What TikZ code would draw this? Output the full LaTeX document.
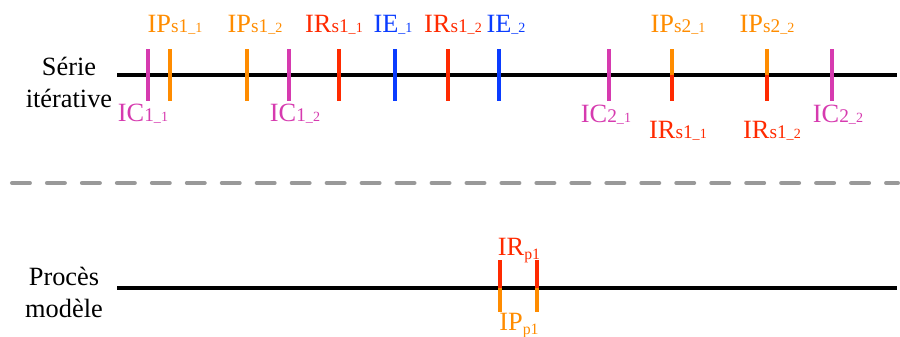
\documentclass[tikz,border=0pt]{standalone}
\usepackage{fontspec}
\setmainfont{Liberation Serif}
\usetikzlibrary{positioning}

\definecolor{icmag}{HTML}{D63AAF}
\definecolor{iporange}{HTML}{FF8C00}
\definecolor{irred}{HTML}{FF2A00}
\definecolor{ieblue}{HTML}{0A3CFF}
\definecolor{sepgray}{HTML}{999999}

% label with small index, e.g. IPs1_1
\newcommand{\lbl}[3]{#1{\fontsize{11}{13}\selectfont #2}{\fontsize{8}{9}\selectfont\_#3}}
\newcommand{\lblp}[1]{#1\raisebox{-0.35ex}{\fontsize{9}{10}\selectfont p1}}

\begin{document}
\begin{tikzpicture}[x=0.02cm, y=-0.02cm,
		axis/.style={line width=1.8pt},
		tick/.style={line width=1.9pt},
		lab/.style={font=\fontsize{15}{17}\selectfont, anchor=base, inner sep=0pt},
		rowname/.style={font=\fontsize{15}{18.2}\selectfont, align=center, inner sep=0pt},
		sep/.style={draw=sepgray, line width=2.3pt, line cap=round, dash pattern=on 10.2pt off 9.7pt}
	]
	\useasboundingbox (0,0) rectangle (900,336);

	% series timeline
	\node[rowname] (serie) at (69,82) {Série\\itérative};
	\coordinate (s0) at (117,75);
	\coordinate (s1) at (897,75);
	\draw[axis] (s0) -- (s1);

	\foreach \x/\c in {148/icmag, 170/iporange, 247/iporange, 289/icmag, 339/irred,
			395/ieblue, 448/irred, 499/ieblue, 609/icmag, 832/icmag}
		\draw[tick, \c] (\x,49) -- (\x,101);
	\foreach \x in {672, 767} {
		\draw[tick, iporange] (\x,49) -- (\x,75);
		\draw[tick, irred] (\x,75) -- (\x,101);
	}

	\node[lab, iporange] (ips11) at (175,32) {\lbl{IP}{s1}{1}};
	\node[lab, iporange] (ips12) at (255,32) {\lbl{IP}{s1}{2}};
	\node[lab, irred] (irs11) at (334,32) {\lbl{IR}{s1}{1}};
	\node[lab, ieblue] (ie1) at (393,32) {\lbl{IE}{}{1}};
	\node[lab, irred] (irs12) at (453,32) {\lbl{IR}{s1}{2}};
	\node[lab, ieblue] (ie2) at (506,32) {\lbl{IE}{}{2}};
	\node[lab, iporange] (ips21) at (678,32) {\lbl{IP}{s2}{1}};
	\node[lab, iporange] (ips22) at (767,32) {\lbl{IP}{s2}{2}};

	\node[lab, icmag] (ic11) at (143,121) {\lbl{IC}{1}{1}};
	\node[lab, icmag] (ic12) at (295,121) {\lbl{IC}{1}{2}};
	\node[lab, icmag] (ic21) at (606,122) {\lbl{IC}{2}{1}};
	\node[lab, icmag] (ic22) at (838,122) {\lbl{IC}{2}{2}};
	\node[lab, irred] (irs11b) at (678,138) {\lbl{IR}{s1}{1}};
	\node[lab, irred] (irs12b) at (772,138) {\lbl{IR}{s1}{2}};

	% separator
	\coordinate (d0) at (12,183);
	\coordinate (d1) at (898,183);
	\draw[sep] (d0) -- (d1);

	% model process
	\node[rowname] (proces) at (64,292) {Procès\\modèle};
	\coordinate (p0) at (117,288);
	\coordinate (p1) at (897,288);
	\draw[axis] (p0) -- (p1);

	\foreach \x in {500, 537} {
		\draw[tick, irred] (\x,260) -- (\x,288);
		\draw[tick, iporange] (\x,288) -- (\x,312);
	}
	\node[lab, irred] (irp1) at (519,255) {\lblp{IR}};
	\node[lab, iporange] (ipp1) at (519,330) {\lblp{IP}};
\end{tikzpicture}
\end{document}
